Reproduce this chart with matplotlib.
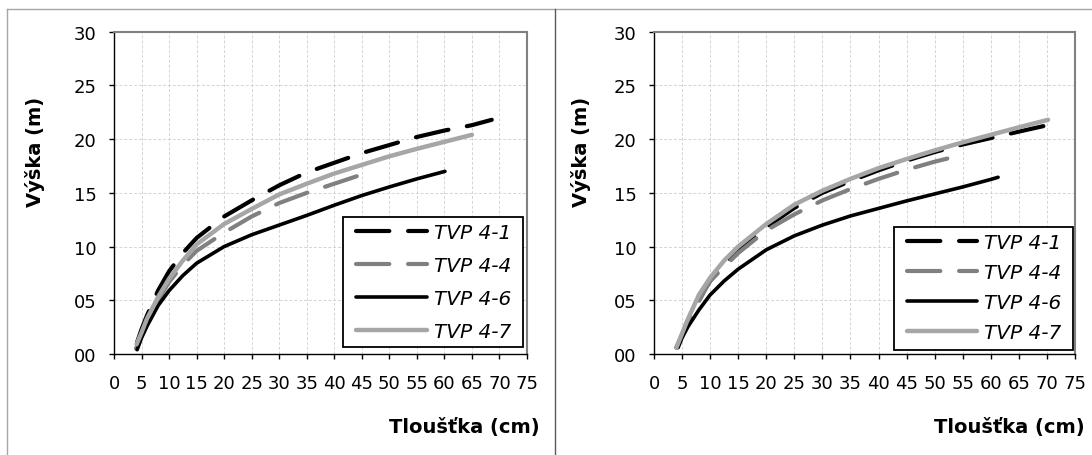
import matplotlib
matplotlib.use("Agg")
import matplotlib.pyplot as plt
from matplotlib.lines import Line2D
from matplotlib.patches import Rectangle
from matplotlib.ticker import FormatStrFormatter

# ---------------- data ----------------
series_names = ["TVP 4-1", "TVP 4-4", "TVP 4-6", "TVP 4-7"]

# left panel
L41_x = [4.2, 5, 6, 8, 10, 12.5, 15, 20, 25, 30, 35, 40, 45, 50, 55, 60, 65, 68.6]
L41_y = [1.1, 2.3, 3.6, 5.9, 7.7, 9.4, 10.8, 12.8, 14.3, 15.7, 16.9, 17.8, 18.7, 19.45, 20.2, 20.8, 21.3, 21.8]
L44_x = [4.0, 5, 6, 8, 10, 12.5, 15, 20, 25, 30, 35, 40, 45, 46.9]
L44_y = [0.5, 1.8, 3.0, 5.0, 6.7, 8.3, 9.6, 11.3, 12.8, 14.05, 15.0, 15.85, 16.7, 17.05]
L46_x = [4.2, 5, 6, 8, 10, 12.5, 15, 20, 25, 30, 35, 40, 45, 50, 55, 60.1]
L46_y = [0.4, 1.5, 2.6, 4.5, 5.9, 7.3, 8.45, 10.0, 11.1, 12.0, 12.9, 13.85, 14.75, 15.55, 16.3, 17.0]
L47_x = [4.1, 5, 6, 8, 10, 12.5, 15, 20, 25, 30, 35, 40, 45, 50, 55, 60, 65]
L47_y = [0.9, 2.0, 3.3, 5.3, 7.0, 8.7, 10.2, 12.1, 13.5, 14.85, 15.85, 16.8, 17.6, 18.4, 19.1, 19.75, 20.4]

# right panel
R41_x = [4.0, 5, 6, 8, 10, 12.5, 15, 20, 25, 30, 35, 40, 45, 50, 55, 60, 65, 69.7]
R41_y = [0.6, 1.8, 3.0, 5.2, 6.8, 8.3, 9.7, 11.8, 13.6, 15.0, 16.1, 17.1, 18.0, 18.8, 19.5, 20.1, 20.7, 21.25]
R44_x = [4.0, 5, 6, 8, 10, 12.5, 15, 20, 25, 30, 35, 40, 45, 50, 55.4]
R44_y = [0.6, 1.7, 2.8, 4.9, 6.8, 8.1, 9.4, 11.5, 13.0, 14.3, 15.35, 16.3, 17.15, 17.9, 18.6]
R46_x = [4.3, 5, 6, 8, 10, 12.5, 15, 20, 25, 30, 35, 40, 45, 50, 55, 60, 61.3]
R46_y = [0.6, 1.5, 2.5, 4.1, 5.5, 6.8, 7.9, 9.7, 11.0, 12.0, 12.85, 13.55, 14.25, 14.9, 15.55, 16.25, 16.45]
R47_x = [4.0, 5, 6, 8, 10, 12.5, 15, 20, 25, 30, 35, 40, 45, 50, 55, 60, 65, 70.2]
R47_y = [0.6, 1.9, 3.2, 5.5, 7.1, 8.7, 10.0, 12.1, 13.9, 15.2, 16.3, 17.3, 18.15, 18.95, 19.7, 20.4, 21.1, 21.8]

x_ticks = list(range(0, 80, 5))
y_ticks = list(range(0, 35, 5))
x_label = "Tloušťka (cm)"
y_label = "Výška (m)"

# ---------------- figure ----------------
W, H = 1092, 456
fig = plt.figure(figsize=(W / 100, H / 100), dpi=100)
fig.patch.set_facecolor("white")

def fx(px):
    return px / W

def fy(py):
    return 1 - py / H

styles = [
    dict(color="black", lw=3.0, ls=(0, (8, 4.5)), dash_capstyle="round"),
    dict(color="#808080", lw=3.0, ls=(0, (8, 4.5)), dash_capstyle="round"),
    dict(color="black", lw=2.6, ls="-", solid_capstyle="round"),
    dict(color="#a6a6a6", lw=3.2, ls="-", solid_capstyle="round"),
]

panels = [
    dict(rect=(114, 32.7, 527, 355),
         data=[(L41_x, L41_y), (L44_x, L44_y), (L46_x, L46_y), (L47_x, L47_y)],
         leg_anchor=(0.586, 0.405), spacing=0.68, box=(0.5545, 0.0217, 0.990, 0.425),
         ylab_x=35, xlab_right=540),
    dict(rect=(654, 32.7, 1075, 355),
         data=[(R41_x, R41_y), (R44_x, R44_y), (R46_x, R46_y), (R47_x, R47_y)],
         leg_anchor=(0.600, 0.376), spacing=0.55, box=(0.570, 0.0124, 0.995, 0.394),
         ylab_x=581, xlab_right=1085),
]

for p in panels:
    x0, y0, x1, y1 = p["rect"]
    ax = fig.add_axes([fx(x0), fy(y1), (x1 - x0) / W, (y1 - y0) / H])
    ax.set_xlim(0, 75)
    ax.set_ylim(0, 30)
    ax.set_xticks(x_ticks)
    ax.set_yticks(y_ticks)
    ax.yaxis.set_major_formatter(FormatStrFormatter("%02d"))
    ax.grid(True, color="#d4d4d4", lw=0.7, ls=(0, (3, 2)))
    ax.set_axisbelow(True)
    for s in ("left", "bottom"):
        ax.spines[s].set_color("black")
        ax.spines[s].set_linewidth(1.0)
    for s in ("top", "right"):
        ax.spines[s].set_color("#808080")
        ax.spines[s].set_linewidth(1.5)
    ax.tick_params(axis="both", direction="out", length=3.6, width=1.0,
                   labelsize=13, colors="black")
    ax.tick_params(axis="y", pad=9)
    ax.tick_params(axis="x", pad=11)

    handles = []
    for (xs, ys), st, name in zip(p["data"], styles, series_names):
        (ln,) = ax.plot(xs, ys, label=name, **st)
        handles.append(ln)

    leg = ax.legend(handles=handles, loc="upper left", bbox_to_anchor=p["leg_anchor"],
                    frameon=False, borderpad=0, borderaxespad=0,
                    handlelength=3.5, handletextpad=0.35, labelspacing=p["spacing"],
                    prop=dict(size=14.5, style="italic"))
    bx0, by0, bx1, by1 = p["box"]
    ax.add_patch(Rectangle((bx0, by0), bx1 - bx0, by1 - by0, transform=ax.transAxes,
                           facecolor="white", edgecolor="black", lw=1.3, zorder=4))
    leg.set_zorder(5)

    fig.text(fx(p["ylab_x"]), fy(152), y_label, rotation=90, ha="center", va="center",
             fontsize=14, fontweight="bold")
    fig.text(fx(p["xlab_right"]), fy(428), x_label, ha="right", va="center",
             fontsize=14, fontweight="bold")

# outer frames
fig.add_artist(Line2D([fx(6.5), fx(1092)], [fy(10), fy(10)], color="#a6a6a6", lw=1.0))
fig.add_artist(Line2D([fx(6.5), fx(6.5)], [fy(10), fy(456)], color="#a6a6a6", lw=1.0))
fig.add_artist(Line2D([fx(555), fx(555)], [fy(10), fy(456)], color="#595959", lw=1.0))

fig.savefig("out.png", dpi=100, facecolor="white")
